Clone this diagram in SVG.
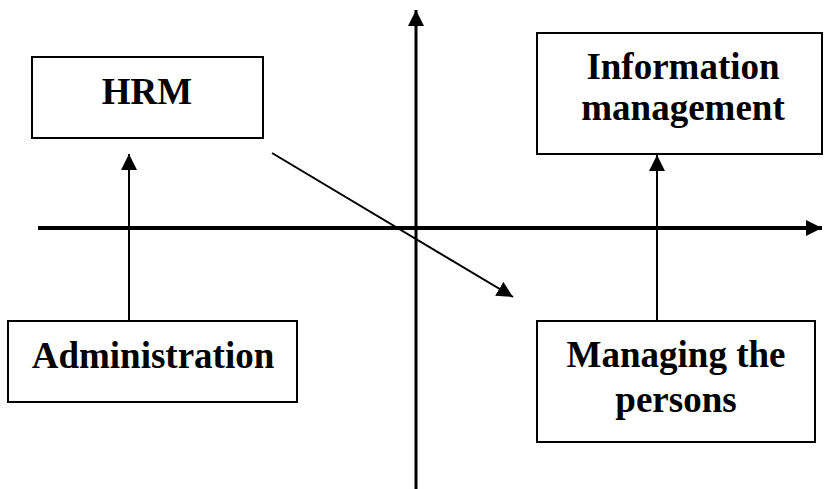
<svg xmlns="http://www.w3.org/2000/svg" width="824" height="489" viewBox="0 0 824 489">
<style>
.box{fill:#fff;stroke:#000;stroke-width:2}
.t{font-family:"Liberation Serif","Times New Roman",serif;font-weight:bold;font-size:37px;fill:#000;text-anchor:middle}
.ax{stroke:#000;stroke-width:4;fill:none}
.ln{stroke:#000;stroke-width:2;fill:none}
</style>
<defs>
<marker id="ah" markerUnits="userSpaceOnUse" markerWidth="16" markerHeight="16" viewBox="0 0 16 16" refX="16" refY="8" orient="auto">
<path d="M0,0 L16,8 L0,16 Z" fill="#000"/>
</marker>
</defs>
<g id="connectors">
<line class="ax" x1="38" y1="228" x2="822" y2="228" marker-end="url(#ah)"/>
<line class="ln" x1="416" y1="489" x2="416" y2="10" marker-end="url(#ah)" style="stroke-width:3"/>
<line class="ln" x1="129" y1="320" x2="129" y2="154" marker-end="url(#ah)"/>
<line class="ln" x1="657" y1="320" x2="657" y2="155" marker-end="url(#ah)"/>
<line class="ln" x1="272" y1="153" x2="513" y2="297" marker-end="url(#ah)"/>
</g>
<g id="hrm">
<rect class="box" x="32" y="57" width="231" height="81"/>
<text class="t" x="147" y="104">HRM</text>
</g>
<g id="info">
<rect class="box" x="537" y="33" width="285" height="121"/>
<text class="t" x="683" y="79">Information</text>
<text class="t" x="683" y="120">management</text>
</g>
<g id="admin">
<rect class="box" x="8" y="321" width="289" height="81"/>
<text class="t" x="153" y="368">Administration</text>
</g>
<g id="managing">
<rect class="box" x="537" y="321" width="278" height="121"/>
<text class="t" x="676" y="367">Managing the</text>
<text class="t" x="676" y="412">persons</text>
</g>
</svg>
